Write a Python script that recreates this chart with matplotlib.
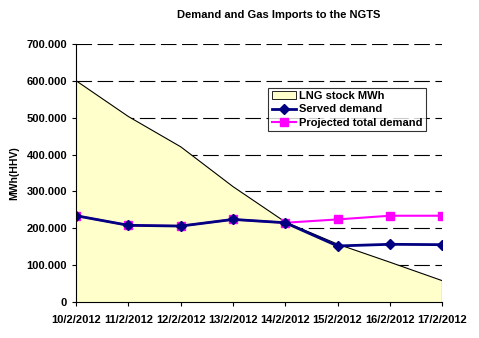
import numpy as np
import matplotlib
matplotlib.use("Agg")
import matplotlib.pyplot as plt
from matplotlib.ticker import FuncFormatter

plt.rcParams['font.family'] = ['Liberation Sans', 'DejaVu Sans']
plt.rcParams['font.weight'] = 'bold'

dates = ["10/2/2012", "11/2/2012", "12/2/2012", "13/2/2012",
         "14/2/2012", "15/2/2012", "16/2/2012", "17/2/2012"]
lng_stock = [600000, 503000, 421000, 313000, 217000, 157000, 108000, 58000]
served = [234000, 208000, 206000, 224000, 215000, 152000, 156500, 155500]
projected = [234000, 208000, 206000, 224000, 215000, 224000, 234000, 234000]

x = np.arange(len(dates))

fig = plt.figure(figsize=(4.79, 3.38), dpi=100)
ax = fig.add_axes([0.159, 0.1065, 0.764, 0.7635])

ax.fill_between(x, lng_stock, 0, facecolor="#FFFFCC", edgecolor="none", zorder=2,
                label="LNG stock MWh")
ax.plot(x, lng_stock, color="black", lw=0.8, zorder=3)
ax.plot([x[-1], x[-1]], [0, lng_stock[-1]], color="black", lw=0.8, zorder=3)

ax.plot(x, projected, color="#FF00FF", lw=1.5, marker="s", ms=5.5,
        zorder=4, label="Projected total demand")
ax.plot(x, served, color="#000080", lw=2, marker="D", ms=5,
        zorder=5, label="Served demand")

ax.set_xlim(0, len(dates) - 1)
ax.set_ylim(0, 700000)
ax.set_yticks(np.arange(0, 700001, 100000))
ax.yaxis.set_major_formatter(FuncFormatter(
    lambda v, p: "0" if v == 0 else "{:,.0f}".format(v).replace(",", ".")))
ax.set_xticks(x)
ax.set_xticklabels(dates)
ax.tick_params(labelsize=8, length=3, width=0.8, direction="out")
ax.tick_params(axis="x", pad=6)
ax.yaxis.grid(True, color="black", lw=0.8, linestyle=(0, (14, 5)), zorder=1)
ax.set_axisbelow(True)
for side in ["top", "right"]:
    ax.spines[side].set_visible(False)
for side in ["left", "bottom"]:
    ax.spines[side].set_linewidth(0.8)
    ax.spines[side].set_zorder(6)

ax.set_ylabel("MWh(HHV)", fontsize=7.5, fontweight="bold", labelpad=5)
fig.text(0.582, 0.955, "Demand and Gas Imports to the NGTS", fontsize=8,
         fontweight="bold", ha="center", va="center")

handles, labels = ax.get_legend_handles_labels()
order = [0, 2, 1]
leg = ax.legend([handles[i] for i in order], [labels[i] for i in order],
                loc="upper left", bbox_to_anchor=(0.525, 0.83), fontsize=8,
                frameon=True, fancybox=False, borderpad=0.3, labelspacing=0.3,
                handlelength=2.2, handletextpad=0.3, borderaxespad=0)
leg.get_frame().set_edgecolor("black")
leg.get_frame().set_linewidth(0.8)
leg.legend_handles[0].set_edgecolor("black")
leg.legend_handles[0].set_linewidth(0.6)
leg.set_zorder(7)

fig.savefig("out.png", dpi=100)
